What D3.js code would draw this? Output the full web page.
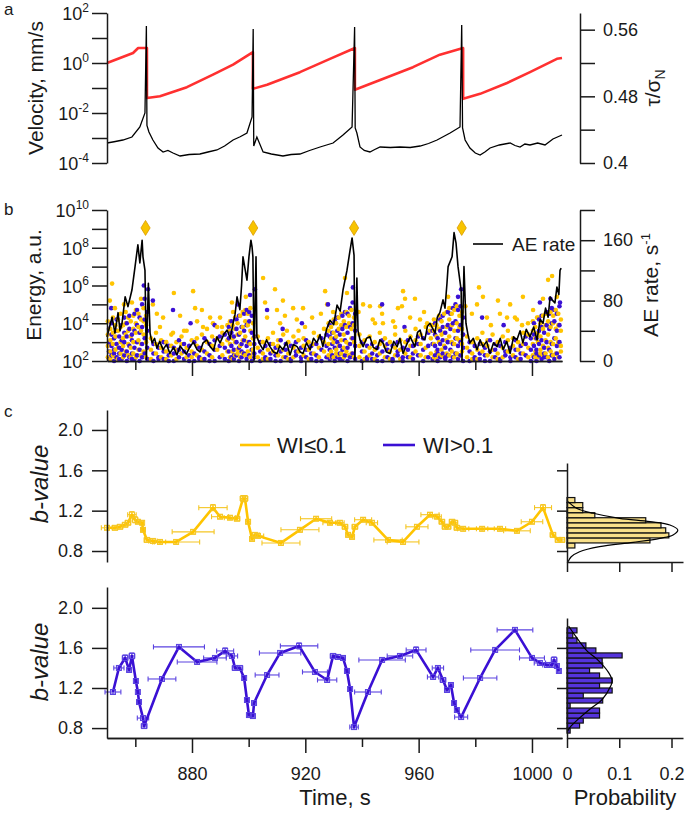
<!DOCTYPE html>
<html><head><meta charset="utf-8">
<script src="https://cdn.jsdelivr.net/npm/d3@7"></script>
<style>body{margin:0;background:#fff}</style>
</head><body>
<script>
// ---------------- DATA ----------------
const timeDomain = [850, 1010.6];
const timeMajorTicks = [880, 920, 960, 1000];
const timeMinorTicks = [860, 900, 940, 980];

// panel a: velocity (time s, log10 mm/s)
const velocity = [[850.0,-3.20],[852.5,-3.15],[855.6,-3.08],[858.8,-2.96],[861.6,-2.56],[863.4,-2.0],[863.9,1.48],[864.1,-2.5],[864.8,-2.76],[866.2,-3.08],[868.0,-3.4],[869.8,-3.56],[871.5,-3.5],[873.3,-3.6],[875.8,-3.72],[879,-3.66],[882.8,-3.64],[886,-3.55],[888.8,-3.48],[891.5,-3.32],[894.5,-3.08],[897,-2.95],[899.4,-2.8],[901.2,-2.16],[901.6,1.36],[901.8,-3.32],[902.9,-2.96],[905.1,-3.56],[908,-3.64],[912.1,-3.72],[915,-3.66],[918.1,-3.64],[921.5,-3.5],[925.2,-3.36],[929.8,-3.2],[933.3,-2.88],[936.5,-2.56],[937.4,1.44],[937.6,-2.6],[938.2,-2.8],[939.3,-3.36],[940.8,-3.5],[942.8,-3.56],[944.5,-3.46],[946.4,-3.36],[950,-3.38],[953.4,-3.36],[957,-3.38],[960.5,-3.32],[963.5,-3.22],[966.5,-3.08],[971.1,-2.8],[974.6,-2.56],[975.2,1.52],[975.5,-2.6],[976.4,-3.08],[978.1,-3.4],[980.0,-3.6],[981.7,-3.68],[983.5,-3.55],[985.2,-3.4],[988.5,-3.28],[992.3,-3.2],[994.0,-3.3],[995.8,-3.36],[997.5,-3.24],[999.3,-3.28],[1002,-3.2],[1004.6,-3.28],[1007.4,-3.04],[1010.6,-2.88]];
const velTickExp = [-4,-3,-2,-1,0,1,2];
const velLabelExp = [-4,-2,0,2];

// panel a: shear stress ratio (time s, tau/sigmaN)
const stress = [[850.0,0.520],[854.6,0.526],[859.2,0.532],[861.0,0.538],[864.1,0.538],[864.1,0.478],[868.7,0.480],[878.2,0.491],[887.4,0.506],[894.5,0.518],[901.5,0.533],[901.5,0.489],[906.5,0.494],[918.1,0.509],[928.7,0.525],[937.5,0.538],[937.5,0.488],[946.4,0.4996],[958.0,0.515],[967.5,0.530],[975.7,0.538],[975.7,0.477],[981.7,0.483],[991.2,0.496],[999.3,0.509],[1008.8,0.525],[1010.6,0.526]];
const stressTicks = [0.40,0.44,0.48,0.52,0.56];
const stressLabels = ["0.4","","0.48","","0.56"];

// panel b: AE rate (time s, events/s)
const aeRate = [[850.0,32],[850.9,45],[851.8,58],[852.8,37],[853.9,64],[854.6,40],[855.3,50],[856.4,85],[857.4,72],[858.8,94],[859.9,125],[860.9,154],[861.6,130],[862.4,160],[862.7,138],[863.4,120],[863.9,2],[864.6,103],[865.2,37],[865.9,24],[866.8,30],[867.6,17],[868.6,26],[869.8,15],[871.0,22],[872.2,10],[873.5,18],[874.7,8],[875.8,20],[876.8,15],[878.0,9],[879.3,19],[880.5,25],[881.8,15],[882.8,12],[883.9,24],[885.2,28],[886.4,19],[887.6,14],[888.8,32],[889.9,24],[891.2,35],[892.4,41],[893.5,30],[894.5,50],[895.2,62],[895.9,85],[896.9,68],[897.5,100],[898.0,138],[899.4,107],[900.1,138],[900.8,160],[901.2,151],[901.5,138],[901.9,1],[902.6,138],[902.9,32],[904.0,22],[905.1,15],[906.3,28],[907.5,19],[908.8,12],[910.0,10],[911.0,20],[912.1,15],[913.4,25],[914.6,8],[915.8,22],[917.1,19],[918.2,12],[919.2,10],[920.4,24],[921.7,15],[922.9,30],[924.1,24],[925.2,35],[926.2,19],[927.5,42],[928.7,54],[930.0,48],[931.2,74],[932.3,66],[933.3,94],[934.7,120],[935.8,147],[936.5,163],[937.2,140],[937.5,1],[938.2,110],[938.6,40],[939.3,28],[940.4,19],[941.6,30],[942.8,32],[944.0,18],[945.3,15],[946.3,28],[947.4,24],[948.6,12],[949.9,10],[951.2,26],[952.4,19],[953.4,30],[954.5,10],[955.8,22],[957.0,32],[958.7,19],[959.6,38],[960.5,41],[961.3,30],[962.2,28],[963.1,46],[964.0,50],[965.8,37],[966.6,58],[967.5,64],[968.6,81],[969.3,70],[970.0,103],[970.4,125],[971.8,138],[972.5,170],[973.2,156],[973.9,125],[975.0,94],[975.3,1],[976.0,125],[976.7,50],[977.4,35],[978.1,24],[979.3,30],[980.6,15],[981.7,28],[982.7,19],[984.0,26],[985.2,10],[986.4,24],[987.7,19],[988.8,30],[989.8,15],[991.1,26],[992.3,10],[993.5,32],[994.7,28],[995.8,40],[996.8,24],[998.0,42],[999.3,32],[1000.6,45],[1001.8,28],[1002.9,55],[1003.9,50],[1004.8,70],[1005.7,58],[1006.4,85],[1007.1,81],[1008.1,77],[1008.8,98],[1009.5,88],[1009.9,120],[1010.3,123]];
const rateTicks = [0,40,80,120,160,200];
const rateLabels = ["0","","80","","160",""];
const energyTickExp = [2,3,4,5,6,7,8,9,10];
const energyLabelExp = [2,4,6,8,10];

// panel b: AE energies, log10 (columns: time, energies...)
const goldCols = [
[850.3,2.2,2.8,3.4,4.1],[851.2,2.5,3.1,3.7,2.1],[852.1,2.3,2.9,3.5,4.3],[853.0,2.6,3.3,3.9,2.2],[853.9,2.1,2.7,3.6,4.2],[854.8,2.4,3.0,3.8,4.5],[855.7,2.2,3.2,3.9,2.8],[856.6,2.5,3.4,4.0,4.6],[857.5,2.3,2.9,3.6,4.3],[858.4,2.7,3.3,4.1,2.2],[859.3,2.4,3.0,3.7,4.4],[860.2,2.2,3.5,4.0,4.7],[861.1,2.6,3.1,3.8,4.5],[862.0,2.3,2.9,3.6,4.2],[862.9,2.5,3.4,4.1,4.8],[863.8,2.2,3.0,3.9,4.4],
[865.5,2.1,2.6,3.2],[867.3,2.4,2.9,3.5],[869.1,2.2,2.7,3.1],[870.9,2.5,3.0,2.1],[872.7,2.3,2.8,3.4],[874.5,2.1,2.6,3.0],[876.3,2.4,2.9,3.3],[878.1,2.2,2.7,3.6],[879.9,2.5,3.1,2.2],[881.7,2.3,2.8,3.2],[883.5,2.1,2.6,3.4],[885.3,2.4,3.0,3.7],[887.1,2.2,2.8,3.3],[888.9,2.6,3.2,3.8],[890.7,2.3,2.9,3.5],[892.5,2.5,3.1,3.9],
[893.4,2.2,2.9,3.6,4.1],[894.3,2.5,3.2,3.9,2.1],[895.2,2.3,3.0,3.7,4.3],[896.1,2.6,3.4,4.0,2.4],[897.0,2.2,2.8,3.5,4.4],[897.9,2.4,3.1,3.8,4.6],[898.8,2.3,3.3,4.1,4.7],[899.7,2.5,3.0,3.9,4.5],[900.6,2.2,2.9,3.6,4.8],[901.5,2.4,3.2,4.0,2.6],
[903.2,2.2,2.7,3.3],[905.0,2.4,3.0,2.1],[906.8,2.1,2.6,3.2],[908.6,2.5,2.9,3.5],[910.4,2.3,2.8,3.1],[912.2,2.2,2.6,3.4],[914.0,2.4,3.0,2.1],[915.8,2.2,2.7,3.3],[917.6,2.5,3.1,3.6],[919.4,2.3,2.8,3.2],[921.2,2.1,2.6,3.0],[923.0,2.4,2.9,3.5],[924.8,2.2,2.7,3.3],[926.6,2.5,3.0,3.7],
[928.2,2.3,2.9,3.6,4.0],[929.1,2.5,3.2,3.8,2.2],[930.0,2.2,3.0,3.5,4.2],[930.9,2.6,3.3,4.0,2.4],[931.8,2.3,2.8,3.7,4.3],[932.7,2.4,3.1,3.9,4.5],[933.6,2.2,3.4,4.1,2.7],[934.5,2.5,3.0,3.8,4.6],[935.4,2.3,2.9,4.0,4.4],[936.3,2.4,3.2,3.7,4.7],[937.2,2.2,3.0,3.9,4.3],
[939.1,2.2,2.8,3.4],[940.9,2.5,3.1,2.1],[942.7,2.3,2.7,3.3],[944.5,2.1,2.6,3.0],[946.3,2.4,2.9,3.5],[948.1,2.2,2.8,3.2],[949.9,2.5,3.0,2.1],[951.7,2.3,2.7,3.4],[953.5,2.1,2.6,3.1],[955.3,2.4,3.0,3.6],[957.1,2.2,2.8,3.3],[958.9,2.5,3.1,3.7],[960.7,2.3,2.9,3.4],[962.5,2.2,2.7,3.8],[964.3,2.4,3.2,3.9],
[965.4,2.2,2.9,3.6,4.2],[966.3,2.5,3.3,3.9,2.1],[967.2,2.3,3.0,3.7,4.4],[968.1,2.6,3.4,4.1,2.3],[969.0,2.2,2.8,3.5,4.5],[969.9,2.4,3.1,3.8,4.6],[970.8,2.3,3.3,4.2,4.8],[971.7,2.5,3.0,3.9,4.5],[972.6,2.2,2.9,3.6,4.7],[973.5,2.4,3.2,4.0,4.9],[974.4,2.3,3.1,3.8,4.4],[975.3,2.5,2.9,3.7,4.6],
[977.1,2.2,2.7,3.3],[978.9,2.4,3.0,2.1],[980.7,2.1,2.6,3.2],[982.5,2.5,2.9,3.5],[984.3,2.3,2.8,3.1],[986.1,2.2,2.6,3.4],[987.9,2.4,3.0,2.1],[989.7,2.2,2.7,3.3],[991.5,2.5,3.1,3.6],[993.3,2.3,2.8,3.2],[995.1,2.1,2.6,3.0],[996.9,2.4,2.9,3.5],[998.7,2.2,2.7,3.4],
[1000.3,2.3,2.9,3.6,4.1],[1001.2,2.5,3.2,3.8,2.2],[1002.1,2.2,3.0,3.5,4.3],[1003.0,2.6,3.3,4.0,2.4],[1003.9,2.3,2.8,3.7,4.4],[1004.8,2.4,3.1,3.9,4.5],[1005.7,2.2,3.4,4.1,2.7],[1006.6,2.5,3.0,3.8,4.6],[1007.5,2.3,2.9,4.0,4.4],[1008.4,2.4,3.2,3.7,4.7],[1009.3,2.2,3.0,3.9,4.5],[1010.2,2.5,2.8,3.6,4.2]];
const purpleCols = [
[850.7,2.1,2.5,3.0,3.7],[851.6,2.3,2.8,3.4,4.0],[852.5,2.0,2.6,3.2,2.4],[853.4,2.2,2.9,3.6,4.2],[854.3,2.4,2.7,3.3,2.1],[855.2,2.1,2.6,3.1,3.9],[856.1,2.3,3.0,3.5,4.3],[857.0,2.0,2.5,3.3,4.0],[857.9,2.2,2.8,3.7,4.4],[858.8,2.4,3.1,3.4,2.1],[859.7,2.1,2.7,3.6,4.5],[860.6,2.3,3.0,3.9,4.7],[861.5,2.0,2.6,3.5,4.3],[862.4,2.2,2.9,3.8,5.0],[863.3,2.4,3.2,4.2,5.3],[864.2,2.1,2.7,3.6,4.6],
[866.4,2.0,2.4,2.9],[868.2,2.2,2.7,2.1],[870.0,2.1,2.5,3.0],[871.8,2.3,2.8,2.0],[873.6,2.0,2.4,2.7],[875.4,2.2,2.6,3.1],[877.2,2.1,2.5,2.9],[879.0,2.3,2.8,2.0],[880.8,2.0,2.4,3.0],[882.6,2.2,2.7,2.1],[884.4,2.1,2.5,3.2],[886.2,2.3,2.9,2.0],[888.0,2.0,2.6,3.1],[889.8,2.2,2.8,3.3],[891.6,2.1,2.7,3.4],
[893.0,2.0,2.5,3.2,3.8],[893.9,2.2,2.8,3.5,4.1],[894.8,2.1,2.6,3.3,2.3],[895.7,2.3,3.0,3.7,4.2],[896.6,2.0,2.7,3.4,4.4],[897.5,2.2,2.9,3.8,2.5],[898.4,2.4,3.1,3.6,4.5],[899.3,2.1,2.8,3.9,4.7],[900.2,2.3,3.0,4.1,4.6],[901.1,2.0,2.6,3.5,4.4],[902.0,2.2,2.9,3.3,2.4],
[904.1,2.0,2.5,3.0],[905.9,2.2,2.8,2.1],[907.7,2.1,2.4,2.9],[909.5,2.3,2.7,2.0],[911.3,2.0,2.5,3.1],[913.1,2.2,2.6,2.9],[914.9,2.1,2.8,2.0],[916.7,2.3,2.5,3.0],[918.5,2.0,2.7,2.2],[920.3,2.2,2.6,3.1],[922.1,2.1,2.4,2.8],[923.9,2.3,2.9,2.0],[925.7,2.0,2.6,3.2],[927.5,2.2,2.8,3.4],
[928.6,2.1,2.6,3.3,3.9],[929.5,2.3,2.9,3.5,2.2],[930.4,2.0,2.7,3.2,4.1],[931.3,2.2,3.0,3.6,4.3],[932.2,2.4,2.8,3.4,2.1],[933.1,2.1,2.6,3.7,4.4],[934.0,2.3,3.1,3.9,4.6],[934.9,2.0,2.7,3.5,4.5],[935.8,2.2,2.9,3.8,4.8],[936.7,2.4,3.2,4.0,5.1],[937.6,2.1,2.8,3.6,4.5],
[940.0,2.0,2.5,3.0],[941.8,2.2,2.8,2.1],[943.6,2.1,2.4,2.9],[945.4,2.3,2.7,2.0],[947.2,2.0,2.5,3.1],[949.0,2.2,2.6,2.9],[950.8,2.1,2.8,2.0],[952.6,2.3,2.5,3.0],[954.4,2.0,2.7,2.2],[956.2,2.2,2.6,3.1],[958.0,2.1,2.4,2.8],[959.8,2.3,2.9,3.3],[961.6,2.0,2.6,3.2],[963.4,2.2,2.8,3.5],[964.9,2.1,2.9,3.6],
[965.8,2.3,2.8,3.4,4.0],[966.7,2.0,2.6,3.2,2.4],[967.6,2.2,2.9,3.6,4.2],[968.5,2.4,3.1,3.8,4.4],[969.4,2.1,2.7,3.5,2.2],[970.3,2.3,3.0,3.9,4.6],[971.2,2.0,2.6,3.7,4.5],[972.1,2.2,2.9,4.0,4.8],[973.0,2.4,3.2,4.1,5.0],[973.9,2.1,2.8,3.6,4.7],[974.8,2.3,3.0,3.9,4.9],[975.7,2.0,2.7,3.4,4.3],
[978.0,2.0,2.5,3.0],[979.8,2.2,2.8,2.1],[981.6,2.1,2.4,2.9],[983.4,2.3,2.7,2.0],[985.2,2.0,2.5,3.1],[987.0,2.2,2.6,2.9],[988.8,2.1,2.8,2.0],[990.6,2.3,2.5,3.0],[992.4,2.0,2.7,2.2],[994.2,2.2,2.6,3.1],[996.0,2.1,2.4,2.8],[997.8,2.3,2.9,3.3],[999.6,2.0,2.6,3.2],
[1000.7,2.2,2.8,3.4,4.0],[1001.6,2.0,2.6,3.2,2.4],[1002.5,2.3,2.9,3.6,4.2],[1003.4,2.1,3.1,3.8,4.4],[1004.3,2.4,2.7,3.5,2.2],[1005.2,2.2,3.0,3.9,4.6],[1006.1,2.0,2.6,3.7,4.5],[1007.0,2.3,2.9,4.0,4.8],[1007.9,2.1,3.2,4.1,4.7],[1008.8,2.4,2.8,3.6,4.5],[1009.7,2.2,3.0,3.9,4.9]];
const goldOutliers = [[851.8,6.1],[851.0,5.2],[852.8,4.8],[856.0,5.0],[858.8,5.1],[862.0,5.3],[866.2,5.0],[867.6,4.5],[868.7,3.8],[869.8,4.3],[873.3,3.5],[873.6,5.6],[875.8,4.4],[877.2,3.6],[880.4,5.7],[881.1,4.8],[881.8,4.1],[883.5,4.7],[883.9,3.8],[886.4,4.3],[887.4,4.0],[889.9,4.3],[890.6,3.8],[894.1,5.1],[894.5,4.6],[899.0,5.4],[905.1,6.4],[905.8,5.1],[906.5,4.3],[909.3,5.8],[910.0,4.7],[911.1,4.0],[912.1,5.2],[912.8,4.4],[913.5,3.6],[915.7,4.8],[917.0,4.2],[919.2,4.8],[919.9,3.8],[922.4,4.3],[925.5,4.5],[927.0,5.7],[927.7,5.0],[929.8,4.6],[934.0,6.4],[934.7,5.6],[938.8,4.6],[940.4,5.0],[942.8,4.9],[943.8,4.2],[944.6,4.0],[946.4,4.9],[947.1,4.5],[947.4,4.0],[951.0,4.1],[951.7,3.8],[952.7,4.8],[954.1,4.9],[954.5,5.7],[955.2,5.3],[957.0,4.3],[958.7,5.3],[960.5,4.2],[961.9,4.6],[963.0,4.0],[964.0,3.6],[965.1,3.9],[970.4,5.4],[976.5,4.9],[978.8,4.5],[980.6,5.0],[981.3,5.9],[982.7,5.4],[984.1,4.3],[985.5,3.9],[988.0,5.2],[988.7,4.5],[991.2,4.3],[992.3,5.0],[994.0,4.3],[994.7,4.2],[996.5,3.9],[996.8,5.4],[998.6,4.0],[1000.4,4.7],[1001.8,4.3],[1003.9,5.3],[1005.7,6.3],[1007.1,6.5],[1008.8,5.4]];
const purpleOutliers = [[851.5,4.8],[863.0,6.0],[864.5,5.8],[866.2,5.2],[873.3,4.7],[879.5,4.0],[888.0,3.9],[896.2,5.0],[900.5,5.5],[902.2,5.8],[906.5,4.7],[912.0,3.7],[918.8,4.0],[928.0,5.0],[936.8,5.9],[947.1,5.0],[955.0,3.8],[973.9,5.4],[975.0,5.8],[982.4,4.3],[990.0,3.9],[1002.8,5.1],[1006.5,5.3],[1009.9,5.1]];
const diamondT = [863.6, 901.6, 937.2, 975.2];
const diamondLogE = 9.05;

// panel c: b-values [time, b, time half-window, b error]
const bGold = [[850.0,1.03,2.0,0.02],[852.8,1.03,1.0,0.02],[854.6,1.04,1.0,0.02],[856.4,1.06,1.0,0.02],[857.4,1.08,1.0,0.02],[858.8,1.16,1.5,0.03],[859.9,1.11,1.0,0.03],[860.9,1.09,0.7,0.02],[862.4,1.08,0.5,0.02],[862.7,1.01,0.5,0.02],[864.1,0.91,1.0,0.02],[866.2,0.90,1.5,0.02],[868.7,0.89,2.0,0.02],[874.4,0.89,8.3,0.02],[880.4,0.99,7.4,0.02],[887.4,1.23,5.0,0.03],[889.9,1.14,3.0,0.02],[893.4,1.13,2.0,0.02],[895.9,1.12,1.0,0.02],[898.0,1.32,1.0,0.03],[898.7,1.32,1.0,0.03],[899.8,1.09,0.7,0.02],[901.2,0.92,0.7,0.02],[902.2,0.96,1.5,0.02],[903.3,0.95,2.0,0.02],[911.4,0.88,6.7,0.02],[918.1,1.01,6.7,0.02],[923.8,1.12,5.5,0.02],[928.7,1.08,2.5,0.02],[932.2,1.08,1.5,0.02],[934.0,1.04,1.0,0.02],[935.1,0.96,0.7,0.02],[936.5,0.94,0.7,0.02],[937.5,1.04,1.0,0.02],[940.4,1.11,3.0,0.02],[943.5,1.08,2.0,0.02],[949.2,0.91,5.0,0.02],[954.5,0.89,5.6,0.02],[959.4,1.04,3.9,0.02],[964.0,1.16,3.2,0.02],[966.5,1.14,1.5,0.02],[968.2,1.09,1.0,0.02],[969.3,1.04,1.0,0.02],[970.4,1.04,1.0,0.02],[971.8,1.09,1.0,0.02],[972.8,1.08,1.0,0.02],[973.5,1.03,1.0,0.02],[975.7,1.02,2.0,0.02],[982.4,1.02,2.0,0.02],[988.7,1.02,2.0,0.02],[994.7,1.00,4.7,0.02],[1000.0,1.09,3.8,0.02],[1003.9,1.23,3.0,0.03],[1007.4,0.96,1.0,0.02],[1009.2,0.91,1.0,0.02],[1010.6,0.91,1.0,0.02]];
const bPurple = [[852.1,1.16,2.8,0.02],[854.2,1.40,1.8,0.02],[856.4,1.50,1.0,0.03],[857.8,1.38,0.7,0.02],[858.8,1.52,1.0,0.03],[860.2,1.27,0.5,0.02],[860.9,1.16,0.5,0.02],[861.3,1.06,0.5,0.02],[862.7,0.90,2.0,0.02],[863.1,0.82,1.0,0.02],[869.4,1.29,4.9,0.02],[875.4,1.61,9.0,0.02],[881.8,1.46,7.0,0.02],[888.1,1.50,4.0,0.02],[891.7,1.57,3.0,0.03],[894.1,1.52,2.0,0.02],[895.2,1.40,1.0,0.02],[896.9,1.40,1.0,0.02],[898.4,1.30,0.5,0.02],[899.4,1.08,0.5,0.02],[900.1,0.93,0.5,0.02],[901.5,0.92,0.7,0.02],[901.9,1.05,0.7,0.02],[906.5,1.33,4.2,0.02],[911.1,1.55,7.3,0.02],[917.8,1.62,6.6,0.03],[923.4,1.36,4.4,0.02],[927.7,1.28,3.4,0.02],[929.8,1.52,1.0,0.02],[931.5,1.51,1.0,0.02],[933.3,1.50,0.7,0.02],[934.7,1.37,0.5,0.02],[935.8,1.19,0.5,0.02],[937.2,0.81,1.5,0.02],[942.1,1.16,4.7,0.02],[947.1,1.48,8.2,0.02],[953.4,1.52,4.5,0.02],[959.1,1.58,3.5,0.03],[965.1,1.31,2.0,0.02],[966.8,1.40,2.0,0.02],[968.6,1.28,1.0,0.02],[970.0,1.18,0.7,0.02],[971.4,1.23,0.7,0.02],[972.5,1.05,0.5,0.02],[973.5,0.98,0.5,0.02],[975.0,0.91,2.3,0.02],[981.7,1.30,5.9,0.02],[987.0,1.58,8.6,0.02],[994.0,1.78,6.3,0.02],[1000.0,1.50,4.4,0.02],[1002.8,1.45,2.0,0.02],[1005.3,1.43,1.5,0.02],[1007.1,1.43,1.0,0.02],[1007.8,1.48,1.0,0.03],[1008.8,1.42,0.7,0.02],[1009.5,1.37,0.5,0.02]];
const bTicks = [0.8,1.2,1.6,2.0];
const bLabels = ["0.8","1.2","1.6","2.0"];

// histograms of b-value (bin lower edge, probability), bin width 0.05
const histBinWidth = 0.05;
const goldBinLo = [0.83,0.88,0.93,0.98,1.03,1.08,1.13,1.18,1.23,1.28];
const goldBinP  = [0.015,0.158,0.194,0.188,0.179,0.150,0.053,0.03,0.03,0.015];
const purpleBinLo = [0.75,0.80,0.85,0.90,0.95,1.00,1.05,1.10,1.15,1.20,1.25,1.30,1.35,1.40,1.45,1.50,1.55,1.60,1.65,1.70,1.75];
const purpleBinP  = [0.006,0.024,0.031,0.062,0.062,0.006,0.068,0.031,0.086,0.062,0.086,0.062,0.043,0.068,0.067,0.105,0.055,0.036,0.019,0.011,0.019];
const goldFit = [[1.289,0.002],[1.224,0.018],[1.174,0.05],[1.124,0.10],[1.091,0.158],[1.058,0.196],[1.008,0.211],[0.959,0.202],[0.926,0.177],[0.886,0.126],[0.843,0.062],[0.793,0.024],[0.743,0.008],[0.694,0.002]];
const purpleFit = [[1.819,0.003],[1.72,0.016],[1.571,0.038],[1.488,0.057],[1.356,0.079],[1.273,0.086],[1.217,0.083],[1.085,0.067],[0.991,0.044],[0.892,0.022],[0.81,0.006],[0.767,0.001]];
const probTicks = [0, 0.1, 0.2];
const probLabels = ["0","0.1","0.2"];

// ---------------- DRAWING ----------------
const FONT = '"Liberation Sans", Arial, Helvetica, sans-serif';
const INK = '#1a1a1a';
const GOLD = '#ffc400', GOLD_ERR = '#f5c623';
const PURPLE = '#3a10d4', PURPLE_ERR = '#5a42e0';
const RED = '#ff3030';

const svg = d3.select('body').append('svg').attr('width',685).attr('height',814)
  .style('font-family', FONT);

function styleAxis(g, fs) {
  g.attr('font-family', FONT).attr('font-size', fs);
  g.selectAll('path.domain').attr('stroke', INK).attr('stroke-width', 1.5);
  g.selectAll('.tick line').attr('stroke', INK).attr('stroke-width', 1.5);
  g.selectAll('.tick text').attr('fill', INK);
  return g;
}
function supLabel(xp, yp, base, sup, anchor, fs, supFs, dy) {
  const t = svg.append('text').attr('x', xp).attr('y', yp).attr('text-anchor', anchor)
    .attr('font-size', fs).attr('fill', INK);
  t.append('tspan').text(base);
  t.append('tspan').attr('dy', dy).attr('font-size', supFs).text(sup);
  return t;
}
function text(xp, yp, s, fs, opts={}) {
  const t = svg.append('text').attr('x', xp).attr('y', yp).attr('font-size', fs).attr('fill', INK)
    .attr('text-anchor', opts.anchor || 'start').text(s);
  if (opts.rotate) t.attr('transform', `rotate(${opts.rotate},${xp},${yp})`);
  if (opts.italic) t.attr('font-style','italic');
  return t;
}

const x = d3.scaleLinear().domain(timeDomain).range([107, 562]);

// ---- panel a ----
const yV = d3.scaleLog().domain([1e-4, 1e2]).range([163, 13]);
const yS = d3.scaleLinear().domain([0.4, 0.58]).range([163, 13]);

svg.append('path').datum(stress)
  .attr('d', d3.line().x(d => x(d[0])).y(d => yS(d[1])))
  .attr('fill','none').attr('stroke', RED).attr('stroke-width', 2.6).attr('stroke-linejoin','round');
svg.append('path').datum(velocity)
  .attr('d', d3.line().x(d => x(d[0])).y(d => yV(Math.pow(10, d[1]))))
  .attr('fill','none').attr('stroke','#000').attr('stroke-width', 1.3);

styleAxis(svg.append('g').attr('transform','translate(107,0)')
  .call(d3.axisLeft(yV).tickValues(velTickExp.map(e => Math.pow(10,e))).tickSize(15).tickSizeOuter(0).tickFormat('')), 18);
velLabelExp.forEach(e => supLabel(89, yV(Math.pow(10,e)) + 7, '10', String(e), 'end', 18, 12, -8));

styleAxis(svg.append('g').attr('transform','translate(580,0)')
  .call(d3.axisRight(yS).tickValues(stressTicks).tickSize(15).tickSizeOuter(0).tickPadding(8)
    .tickFormat((d,i) => stressLabels[i])), 18);

text(43, 88, 'Velocity, mm/s', 21, {anchor:'middle', rotate:-90});
{
  const t = svg.append('text').attr('transform','translate(660,88) rotate(-90)')
    .attr('text-anchor','middle').attr('font-size',21).attr('fill',INK);
  t.append('tspan').text('τ/σ');
  t.append('tspan').attr('dy',5).attr('font-size',14).text('N');
}
text(4, 15, 'a', 17);

// ---- panel b ----
const yE = d3.scaleLog().domain([1e2, 1e10]).range([361, 210]);
const yR = d3.scaleLinear().domain([0, 200]).range([361, 210]);

const pts = [];
goldCols.forEach(c => c.slice(1).forEach(e => pts.push([c[0], e, GOLD])));
purpleCols.forEach(c => c.slice(1).forEach(e => pts.push([c[0], e, PURPLE])));
goldOutliers.forEach(p => pts.push([p[0], p[1], GOLD]));
purpleOutliers.forEach(p => pts.push([p[0], p[1], PURPLE]));
pts.sort((a,b) => a[0]-b[0]);
svg.append('g').selectAll('circle').data(pts).join('circle')
  .attr('cx', d => x(d[0])).attr('cy', d => yE(Math.pow(10, d[1])))
  .attr('r', 2.3).attr('fill', d => d[2]);

svg.append('path').datum(aeRate)
  .attr('d', d3.line().x(d => x(d[0])).y(d => yR(d[1])))
  .attr('fill','none').attr('stroke','#000').attr('stroke-width', 1.6).attr('stroke-linejoin','round');

svg.append('g').selectAll('path').data(diamondT).join('path')
  .attr('d', t => { const cx = x(t), cy = yE(Math.pow(10, diamondLogE));
    return `M${cx},${cy-7.5}L${cx+4.6},${cy}L${cx},${cy+7.5}L${cx-4.6},${cy}Z`; })
  .attr('fill','#f8c400').attr('stroke','#d99a00').attr('stroke-width',0.8);

styleAxis(svg.append('g').attr('transform','translate(107,0)')
  .call(d3.axisLeft(yE).tickValues(energyTickExp.map(e => Math.pow(10,e))).tickSize(15).tickSizeOuter(0).tickFormat('')), 18);
energyLabelExp.forEach(e => supLabel(89, yE(Math.pow(10,e)) + 7, '10', String(e), 'end', 18, 12, -8));

styleAxis(svg.append('g').attr('transform','translate(580,0)')
  .call(d3.axisRight(yR).tickValues(rateTicks).tickSize(15).tickSizeOuter(0).tickPadding(8)
    .tickFormat((d,i) => rateLabels[i])), 18);

styleAxis(svg.append('g').attr('transform','translate(0,361)')
  .call(d3.axisBottom(x).tickValues(timeMajorTicks).tickSize(15).tickSizeOuter(0).tickFormat('')), 18);
styleAxis(svg.append('g').attr('transform','translate(0,361)')
  .call(d3.axisBottom(x).tickValues(timeMinorTicks).tickSize(9).tickSizeOuter(0).tickFormat('')), 18);

text(41, 285, 'Energy, a.u.', 21, {anchor:'middle', rotate:-90});
{
  const t = svg.append('text').attr('transform','translate(658,285) rotate(-90)')
    .attr('text-anchor','middle').attr('font-size',21).attr('fill',INK);
  t.append('tspan').text('AE rate, s');
  t.append('tspan').attr('dy',-8).attr('font-size',13).text('-1');
}
svg.append('line').attr('x1',473).attr('x2',503).attr('y1',244).attr('y2',244).attr('stroke','#000').attr('stroke-width',1.6);
text(512, 251, 'AE rate', 19);
text(4, 215, 'b', 17);

// ---- panel c ----
const yB1 = d3.scaleLinear().domain([0.691, 2.198]).range([562, 410]);
const yB2 = d3.scaleLinear().domain([0.701, 2.208]).range([738, 587]);

function drawB(data, yB, col, errCol) {
  const g = svg.append('g');
  const cap = 2.5;
  data.forEach(d => {
    const cx = x(d[0]), cy = yB(d[1]);
    const xl = x(d[0]-d[2]), xr = x(d[0]+d[2]);
    const yt = yB(d[1]+d[3]), yb = yB(d[1]-d[3]);
    const segs = [[xl,cy,xr,cy],[xl,cy-cap,xl,cy+cap],[xr,cy-cap,xr,cy+cap],
                  [cx,yt,cx,yb],[cx-cap,yt,cx+cap,yt],[cx-cap,yb,cx+cap,yb]];
    segs.forEach(s => g.append('line').attr('x1',s[0]).attr('y1',s[1]).attr('x2',s[2]).attr('y2',s[3])
      .attr('stroke', errCol).attr('stroke-width', 1.1));
  });
  svg.append('path').datum(data)
    .attr('d', d3.line().x(d => x(d[0])).y(d => yB(d[1])))
    .attr('fill','none').attr('stroke', col).attr('stroke-width', 2.6).attr('stroke-linejoin','round');
  svg.append('g').selectAll('rect').data(data).join('rect')
    .attr('x', d => x(d[0]) - 2.5).attr('y', d => yB(d[1]) - 2.5).attr('width', 5).attr('height', 5)
    .attr('fill','none').attr('stroke', errCol).attr('stroke-width', 1);
}
drawB(bGold, yB1, GOLD, GOLD_ERR);
drawB(bPurple, yB2, PURPLE, PURPLE_ERR);

styleAxis(svg.append('g').attr('transform','translate(107,0)')
  .call(d3.axisLeft(yB1).tickValues(bTicks).tickSize(15).tickSizeOuter(0).tickPadding(9)
    .tickFormat((d,i) => bLabels[i])), 18);
styleAxis(svg.append('g').attr('transform','translate(107,0)')
  .call(d3.axisLeft(yB2).tickValues(bTicks).tickSize(15).tickSizeOuter(0).tickPadding(9)
    .tickFormat((d,i) => bLabels[i])), 18);

styleAxis(svg.append('g').attr('transform','translate(0,738)')
  .call(d3.axisBottom(x).tickValues(timeMajorTicks).tickSize(15).tickSizeOuter(0).tickPadding(14)
    .tickFormat(d3.format('d'))), 18);
styleAxis(svg.append('g').attr('transform','translate(0,738)')
  .call(d3.axisBottom(x).tickValues(timeMinorTicks).tickSize(9).tickSizeOuter(0).tickFormat('')), 18);

text(48, 484, 'b-value', 24, {anchor:'middle', rotate:-90, italic:true});
text(48, 662, 'b-value', 24, {anchor:'middle', rotate:-90, italic:true});
text(335, 805, 'Time, s', 22, {anchor:'middle'});
text(4, 417, 'c', 17);

// legend
svg.append('line').attr('x1',240).attr('x2',270).attr('y1',445).attr('y2',445).attr('stroke',GOLD).attr('stroke-width',2.6);
text(277, 453, 'WI≤0.1', 22);
svg.append('line').attr('x1',383).attr('x2',415).attr('y1',445).attr('y2',445).attr('stroke',PURPLE).attr('stroke-width',2.6);
text(423, 453, 'WI>0.1', 22);

// ---- histograms ----
const xP = d3.scaleLinear().domain([0, 0.2]).range([567, 672]);
function drawHist(lo, p, fit, yB, yTop, fill) {
  svg.append('g').selectAll('rect').data(lo).join('rect')
    .attr('x', xP(0)).attr('y', (d) => yB(d + histBinWidth))
    .attr('width', (d,i) => xP(p[i]) - xP(0))
    .attr('height', d => yB(d) - yB(d + histBinWidth))
    .attr('fill', fill).attr('stroke', '#111').attr('stroke-width', 1.2);
  svg.append('path').datum(fit)
    .attr('d', d3.line().x(d => xP(d[1])).y(d => yB(d[0])).curve(d3.curveCatmullRom))
    .attr('fill','none').attr('stroke','#000').attr('stroke-width',1.2);
  const yAx = yB.copy().domain([yB.domain()[0], yB.invert(yTop)]).range([yB.range()[0], yTop]);
  styleAxis(svg.append('g').attr('transform','translate(567,0)')
    .call(d3.axisLeft(yAx).tickValues([0.8,1.2,1.6]).tickSize(10).tickSizeOuter(0).tickFormat('')), 18);
  const xAx = xP.copy().domain([0, 0.222]).range([567, 683]);
  return styleAxis(svg.append('g').attr('transform',`translate(0,${yB.range()[0]})`)
    .call(d3.axisBottom(xAx).tickValues(probTicks).tickSize(10).tickSizeOuter(0).tickPadding(19)
      .tickFormat((d,i) => probLabels[i])), 18);
}
const h1 = drawHist(goldBinLo, goldBinP, goldFit, yB1, 463, '#f9e08a');
h1.selectAll('.tick text').remove();
drawHist(purpleBinLo, purpleBinP, purpleFit, yB2, 618, '#5534dc');
text(625, 805, 'Probability', 22, {anchor:'middle'});
</script>
</body></html>
